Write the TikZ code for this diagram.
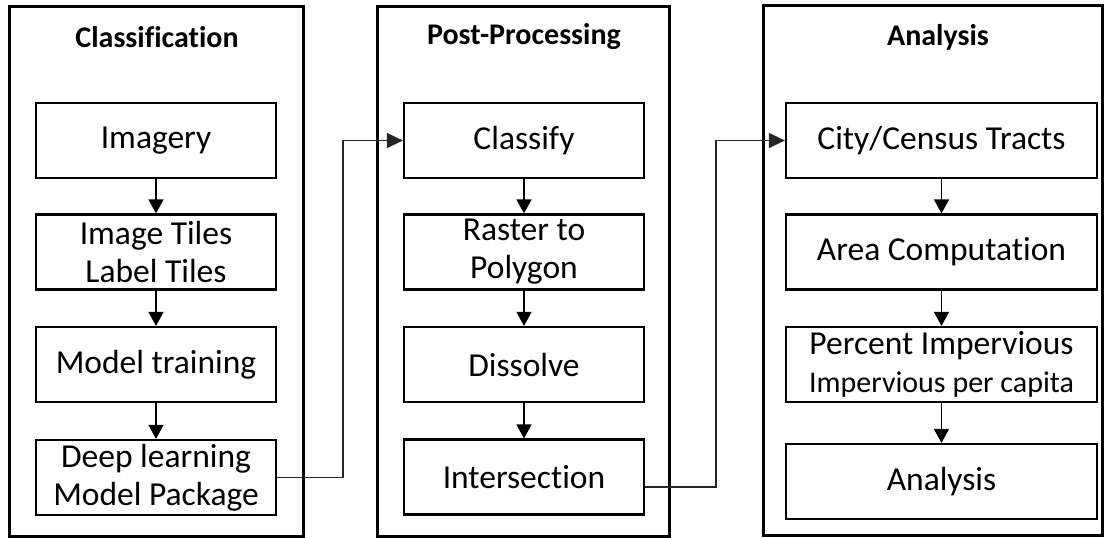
\documentclass[tikz,border=0pt]{standalone}
\usepackage{fontspec}
\setmainfont{Carlito}[Ligatures={NoCommon}]
\usetikzlibrary{arrows.meta}
\tikzset{
  panel/.style={draw, line width=3pt, inner sep=0pt},
  ptitle/.style={font=\bfseries\fontsize{30}{36}\selectfont, inner sep=0pt, anchor=center},
  stepbox/.style={draw, line width=2.2pt, inner sep=0pt, align=center,
    font=\fontsize{33.5}{38}\selectfont, minimum height=75pt},
  narrow/.style={stepbox, minimum width=240pt},
  wide/.style={stepbox, minimum width=311pt},
  down/.style={line width=1.5pt, -{Triangle[length=14pt,width=15pt]}},
  conn/.style={line width=1.4pt, draw=black!85, -{Triangle[length=16pt,width=15pt]}}
}
\begin{document}
\begin{tikzpicture}[x=1pt,y=-1pt]
\useasboundingbox (0,0) rectangle (1104,538);
% panels
\node[panel, minimum width=294pt, minimum height=530pt] (p1) at (156,271) {};
\node[panel, minimum width=292pt, minimum height=530pt] (p2) at (523,271) {};
\node[panel, minimum width=339pt, minimum height=530pt] (p3) at (932.5,270.5) {};
\node[ptitle] (t1) at (157,37) {Classification};
\node[ptitle] (t2) at (524,37) {Post-Processing};
\node[ptitle] (t3) at (938,37) {Analysis};
% column 1
\node[narrow] (b1) at (156,140.5) {Imagery};
\node[narrow] (b2) at (156,252) {Image Tiles\\Label Tiles};
\node[narrow] (b3) at (156,364.5) {Model training};
\node[narrow] (b4) at (156,477.5) {Deep learning\\Model Package};
% column 2
\node[narrow] (c1) at (524,140.5) {Classify};
\node[narrow] (c2) at (524,252) {Raster to\\Polygon};
\node[narrow] (c3) at (524,364.5) {Dissolve};
\node[narrow] (c4) at (524,477) {Intersection};
% column 3
\node[wide] (d1) at (941.5,140.5) {City/Census Tracts};
\node[wide] (d2) at (941.5,252) {Area Computation};
\node[wide] (d3) at (941.5,364.5) {Percent Impervious\\{\fontsize{30}{36}\selectfont Impervious per capita}};
\node[wide] (d4) at (941.5,481.5) {Analysis};
% vertical arrows
\draw[down] (b1) -- (b2);
\draw[down] (b2) -- (b3);
\draw[down] (b3) -- (b4);
\draw[down] (c1) -- (c2);
\draw[down] (c2) -- (c3);
\draw[down] (c3) -- (c4);
\draw[down] (d1) -- (d2);
\draw[down] (d2) -- (d3);
\draw[down] (d3) -- (d4);
% cross-panel connectors
\draw[conn] (b4.east) -- ++(66,0) |- (c1.west);
\draw[conn] ([yshift=-10pt]c4.east) -- ++(71,0) |- (d1.west);
\end{tikzpicture}
\end{document}
